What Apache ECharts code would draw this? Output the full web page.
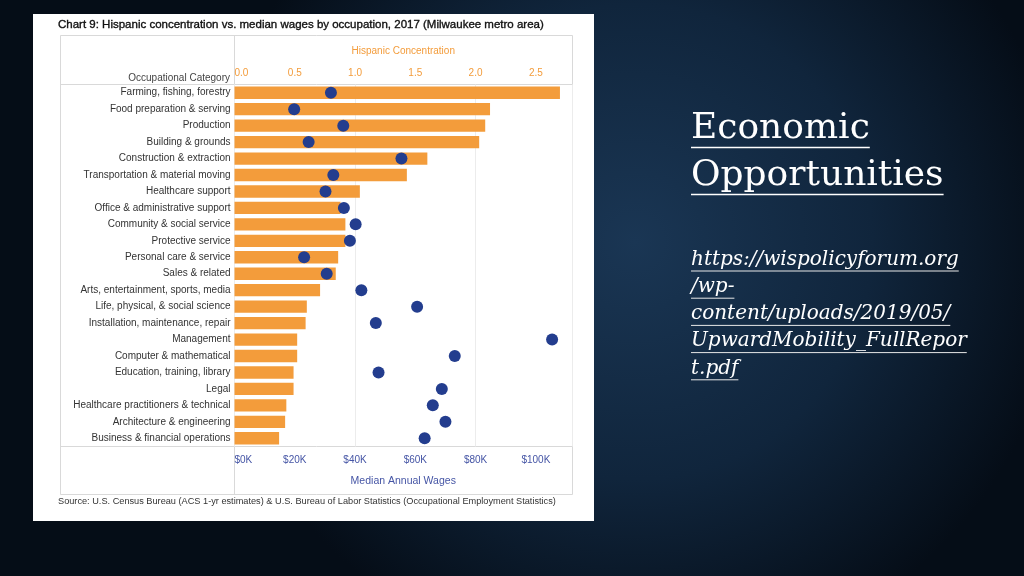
<!DOCTYPE html>
<html>
<head>
<meta charset="utf-8">
<script src="https://cdn.jsdelivr.net/npm/echarts@6/dist/echarts.min.js"></script>
<style>
html,body{margin:0;padding:0;background:#0b1a2b;}
#c{width:1024px;height:576px;}
</style>
</head>
<body>
<div id="c"></div>
<script>
const categories = [
  "Farming, fishing, forestry",
  "Food preparation & serving",
  "Production",
  "Building & grounds",
  "Construction & extraction",
  "Transportation & material moving",
  "Healthcare support",
  "Office & administrative support",
  "Community & social service",
  "Protective service",
  "Personal care & service",
  "Sales & related",
  "Arts, entertainment, sports, media",
  "Life, physical, & social science",
  "Installation, maintenance, repair",
  "Management",
  "Computer & mathematical",
  "Education, training, library",
  "Legal",
  "Healthcare practitioners & technical",
  "Architecture & engineering",
  "Business & financial operations"
];
const hispanicConcentration = [2.70, 2.12, 2.08, 2.03, 1.60, 1.43, 1.04, 0.88, 0.92, 0.92, 0.86, 0.84, 0.71, 0.60, 0.59, 0.52, 0.52, 0.49, 0.49, 0.43, 0.42, 0.37];
const medianWages = [32000, 19800, 36100, 24600, 55400, 32800, 30200, 36300, 40200, 38300, 23100, 30600, 42100, 60600, 46900, 105400, 73100, 47800, 68800, 65800, 70000, 63100];

const titleText = "Chart 9: Hispanic concentration vs. median wages by occupation, 2017 (Milwaukee metro area)";
const sourceText = "Source: U.S. Census Bureau (ACS 1-yr estimates) & U.S. Bureau of Labor Statistics (Occupational Employment Statistics)";
const topAxisName = "Hispanic Concentration";
const bottomAxisName = "Median Annual Wages";
const categoryHeader = "Occupational Category";
const slideTitle = ["Economic", "Opportunities"];
const urlLines = ["https://wispolicyforum.org", "/wp-", "content/uploads/2019/05/", "UpwardMobility_FullRepor", "t.pdf"];

const FONT = "Liberation Sans, Arial, sans-serif";
const SERIF = "DejaVu Serif, serif";
const ORANGE = "#F39C3B";
const BLUE = "#233D8E";
const AXISBLUE = "#4555A5";
const BORDER = "#d9d9d9";

const measureCtx = document.createElement('canvas').getContext('2d');
function textWidth(t, font){ measureCtx.font = font; return measureCtx.measureText(t).width; }

const chart = echarts.init(document.getElementById('c'), null, {renderer: 'canvas'});

const graphics = [
  {type:'rect', z:-5, shape:{x:33,y:14,width:561,height:507}, style:{fill:'#ffffff'}},
  {type:'rect', z:-4, shape:{x:60.5,y:35.5,width:512,height:459}, style:{fill:'none', stroke:BORDER, lineWidth:1}},
  {type:'line', z:-4, shape:{x1:60,y1:84.5,x2:573,y2:84.5}, style:{stroke:BORDER, lineWidth:1}},
  {type:'line', z:-4, shape:{x1:60,y1:446.5,x2:573,y2:446.5}, style:{stroke:BORDER, lineWidth:1}},
  {type:'line', z:-4, shape:{x1:234.5,y1:36,x2:234.5,y2:494}, style:{stroke:BORDER, lineWidth:1}},
  {type:'text', z:5, x:58, y:25, style:{text:titleText, font:'11.5px '+FONT, fill:'#111', stroke:'#111', lineWidth:0.35, textVerticalAlign:'middle'}},
  {type:'text', z:5, x:230, y:78, style:{text:categoryHeader, font:'10px '+FONT, fill:'#444', textAlign:'right', textVerticalAlign:'middle'}},
  {type:'text', z:5, x:58, y:501, style:{text:sourceText, font:'9.2px '+FONT, fill:'#333', textVerticalAlign:'middle'}}
];
// slide title
const titleFont = '36px ' + SERIF;
slideTitle.forEach((t,i)=>{
  const y = 129 + i*47;
  graphics.push({type:'text', z:5, x:691, y:y, style:{text:t, font:titleFont, fill:'#ffffff', textVerticalAlign:'middle'}});
  const w = textWidth(t, titleFont);
  graphics.push({type:'line', z:5, shape:{x1:691,y1:y+18.5,x2:691+w,y2:y+18.5}, style:{stroke:'#fff', lineWidth:1.5}});
});
const urlFont = 'italic 20px ' + SERIF;
urlLines.forEach((t,i)=>{
  const y = 259.5 + i*27.2;
  graphics.push({type:'text', z:5, x:691, y:y, style:{text:t, font:urlFont, fill:'#ffffff', textVerticalAlign:'middle'}});
  const w = textWidth(t, urlFont);
  graphics.push({type:'line', z:5, shape:{x1:691,y1:y+11.5,x2:691+w,y2:y+11.5}, style:{stroke:'#e8e8e8', lineWidth:1}});
});

const option = {
  backgroundColor: {
    type:'radial', x:0.62, y:0.42, r:0.75,
    colorStops:[{offset:0,color:'#1a3654'},{offset:0.55,color:'#10253c'},{offset:1,color:'#050d17'}]
  },
  animation:false,
  graphic: graphics,
  grid: {left:234.5, right:452, top:84.5, bottom:129.5, containLabel:false},
  yAxis: {
    type:'category', data:categories, inverse:true,
    axisLine:{show:false}, axisTick:{show:false},
    axisLabel:{fontSize:10, fontFamily:FONT, color:'#333', margin:4}
  },
  xAxis: [
    {
      type:'value', position:'top', min:0, max:2.8, interval:0.5,
      name:topAxisName, nameLocation:'middle', nameGap:28,
      nameTextStyle:{color:ORANGE, fontSize:10, fontFamily:FONT},
      axisLine:{show:false}, axisTick:{show:false}, splitLine:{show:false},
      axisLabel:{color:ORANGE, fontSize:10, fontFamily:FONT, margin:6.5, showMaxLabel:false, alignMinLabel:'left',
        formatter:v=>v.toFixed(1)}
    },
    {
      type:'value', position:'bottom', min:0, max:112000, interval:20000,
      name:bottomAxisName, nameLocation:'middle', nameGap:29,
      nameTextStyle:{color:AXISBLUE, fontSize:10.5, fontFamily:FONT},
      axisLine:{show:false}, axisTick:{show:false}, splitLine:{show:false},
      axisLabel:{color:AXISBLUE, fontSize:10, fontFamily:FONT, margin:9, showMaxLabel:false, alignMinLabel:'left',
        formatter:v=>'$'+(v/1000)+'K'}
    },
    {
      type:'value', position:'bottom', min:0, max:112000, interval:40000,
      axisLine:{show:false}, axisTick:{show:false}, axisLabel:{show:false},
      splitLine:{show:true, lineStyle:{color:'#ececec', width:1}}
    }
  ],
  series: [
    {
      type:'bar', xAxisIndex:0, data:hispanicConcentration,
      barCategoryGap:'25%', itemStyle:{color:ORANGE}, z:2
    },
    {
      type:'scatter', xAxisIndex:1, data:medianWages,
      symbolSize:12, itemStyle:{color:BLUE, opacity:1}, z:3
    }
  ]
};
chart.setOption(option);
</script>
</body>
</html>
